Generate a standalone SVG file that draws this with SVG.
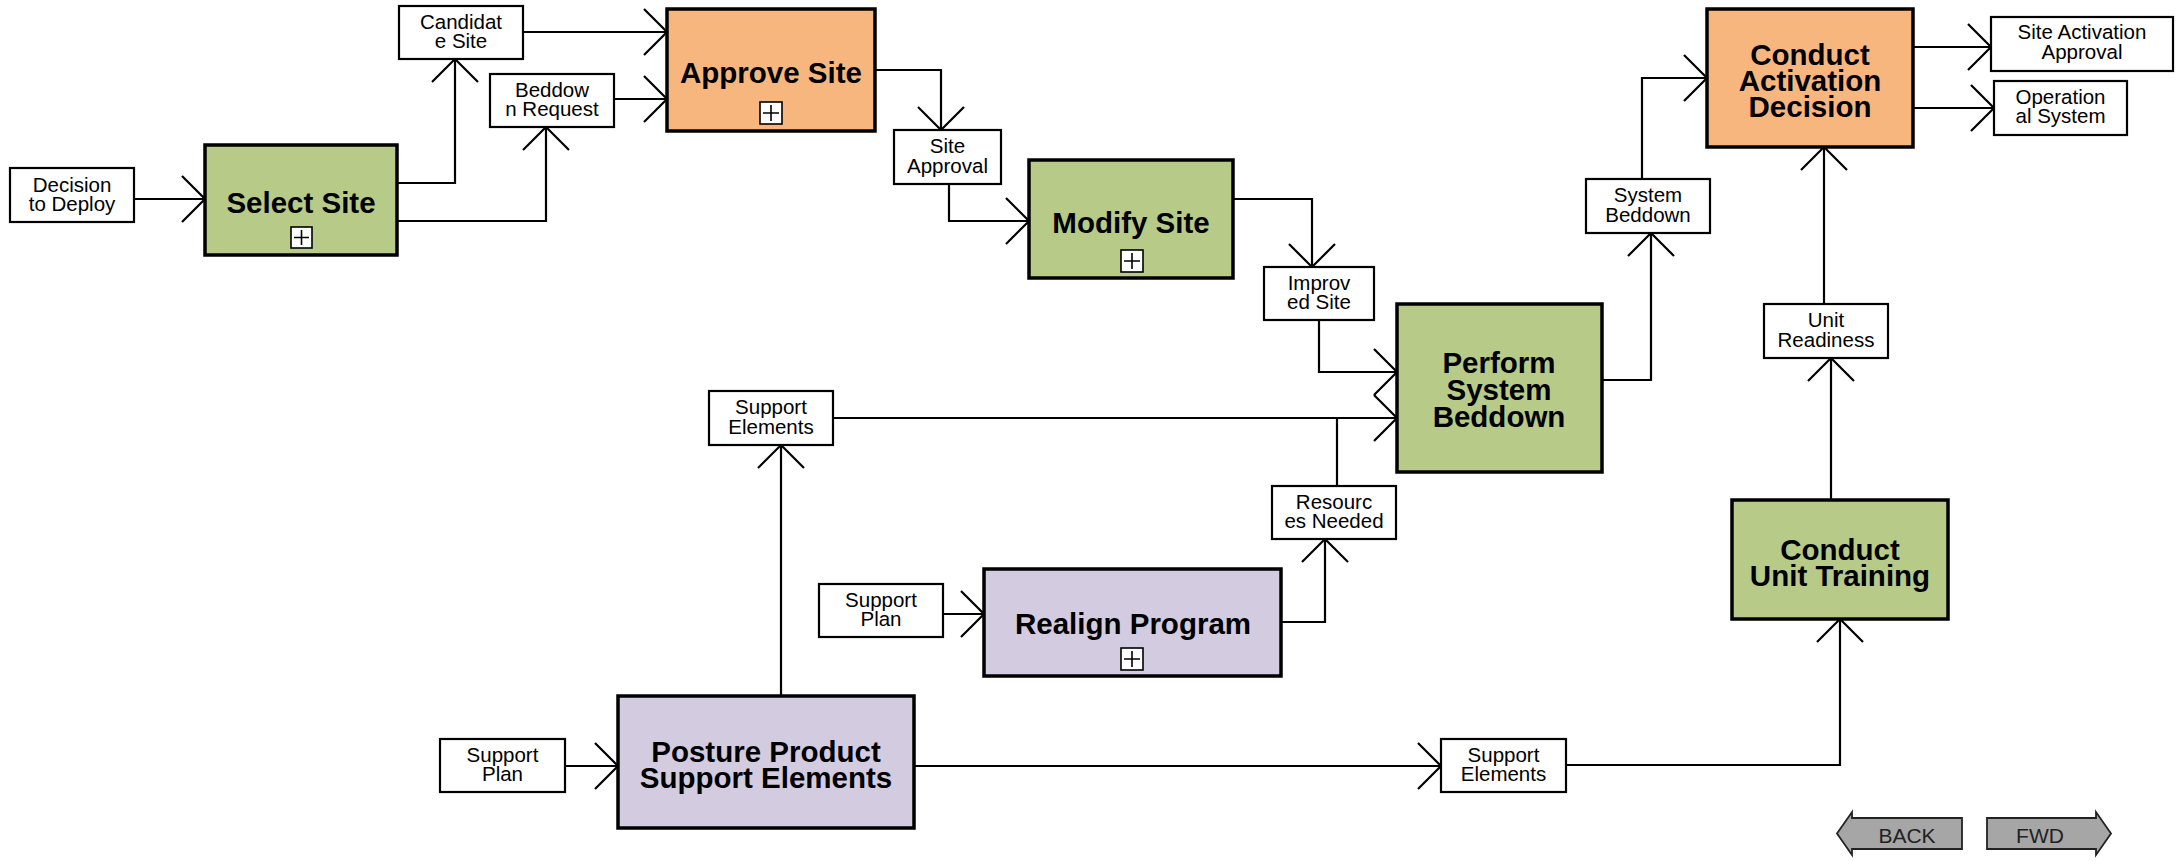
<svg xmlns="http://www.w3.org/2000/svg" width="2183" height="861" viewBox="0 0 2183 861">
<defs>
<style>
.node rect.b{stroke:#000;stroke-width:3.5}
.green{fill:#b7ca88}
.orange{fill:#f8b67f}
.lav{fill:#d3cbdf}
.lbl rect{fill:#fff;stroke:#000;stroke-width:2.2}
.lt{font-family:"Liberation Sans",Arial,sans-serif;font-size:20.5px;fill:#000;text-anchor:middle}
.nt{font-family:"Liberation Sans",Arial,sans-serif;font-size:29.5px;font-weight:bold;fill:#000;text-anchor:middle}
.plus rect{fill:#fff;stroke:#000;stroke-width:1.6}
.plus path{stroke:#000;stroke-width:1.6;fill:none}
.conn path{fill:none;stroke:#000;stroke-width:2.2;marker-end:url(#arr)}
.conn path.nm{marker-end:none}
.btn polygon{fill:#a6a6a6;stroke:#222;stroke-width:1.8}
.bt{font-family:"Liberation Sans",Arial,sans-serif;font-size:21px;fill:#222;text-anchor:middle}
</style>
<marker id="arr" markerUnits="userSpaceOnUse" viewBox="-26 -26 28 52" refX="0" refY="0" markerWidth="28" markerHeight="52" orient="auto" overflow="visible">
<path d="M-23,-23 L0,0 L-23,23" fill="none" stroke="#000" stroke-width="2.2"/>
</marker>
</defs>
<rect width="2183" height="861" fill="#fff"/>

<g class="conn">
<path d="M134,199 H205"/>
<path d="M397,183 H455 V59"/>
<path d="M397,221 H546 V127"/>
<path d="M523,32 H667"/>
<path d="M614,99 H667"/>
<path d="M875,70 H941 V130"/>
<path d="M949,184 V221 H1029"/>
<path d="M1233,199 H1312 V267"/>
<path d="M1319,320 V372 H1397"/>
<path d="M833,418 H1397"/>
<path class="nm" d="M1337,486 V418"/>
<path d="M781,696 V445"/>
<path d="M943,614 H984"/>
<path d="M1281,622 H1325 V539"/>
<path d="M565,766 H618"/>
<path d="M914,766 H1441"/>
<path d="M1566,765 H1840 V619"/>
<path d="M1831,500 V358"/>
<path d="M1824,304 V147"/>
<path d="M1602,380 H1651 V233"/>
<path d="M1642,179 V78 H1707"/>
<path d="M1913,47 H1991"/>
<path d="M1913,108 H1994"/>
</g>

<g id="select-site" class="node">
<rect class="b green" x="205" y="145" width="192" height="110"/>
<text class="nt" x="301" y="213">Select Site</text>
<g class="plus"><rect x="291" y="227" width="21" height="21"/><path d="M301.5,230 V245 M294,237.5 H309"/></g>
</g>
<g id="approve-site" class="node">
<rect class="b orange" x="667" y="9" width="208" height="122"/>
<text class="nt" x="771" y="83">Approve Site</text>
<g class="plus"><rect x="760" y="102" width="22" height="22"/><path d="M771,105 V121 M763,113 H779"/></g>
</g>
<g id="modify-site" class="node">
<rect class="b green" x="1029" y="160" width="204" height="118"/>
<text class="nt" x="1131" y="233">Modify Site</text>
<g class="plus"><rect x="1121" y="250" width="22" height="22"/><path d="M1132,253 V269 M1124,261 H1140"/></g>
</g>
<g id="perform-system-beddown" class="node">
<rect class="b green" x="1397" y="304" width="205" height="168"/>
<text class="nt" x="1499" y="373">Perform<tspan x="1499" dy="27">System</tspan><tspan x="1499" dy="27">Beddown</tspan></text>
</g>
<g id="conduct-activation-decision" class="node">
<rect class="b orange" x="1707" y="9" width="206" height="138"/>
<text class="nt" x="1810" y="65">Conduct<tspan x="1810" dy="26">Activation</tspan><tspan x="1810" dy="26">Decision</tspan></text>
</g>
<g id="conduct-unit-training" class="node">
<rect class="b green" x="1732" y="500" width="216" height="119"/>
<text class="nt" x="1840" y="560">Conduct<tspan x="1840" dy="25.5">Unit Training</tspan></text>
</g>
<g id="realign-program" class="node">
<rect class="b lav" x="984" y="569" width="297" height="107"/>
<text class="nt" x="1133" y="634">Realign Program</text>
<g class="plus"><rect x="1121" y="648" width="22" height="22"/><path d="M1132,651 V667 M1124,659 H1140"/></g>
</g>
<g id="posture-product-support-elements" class="node">
<rect class="b lav" x="618" y="696" width="296" height="132"/>
<text class="nt" x="766" y="762">Posture Product<tspan x="766" dy="26">Support Elements</tspan></text>
</g>

<g id="lbl-decision-to-deploy" class="lbl"><rect x="10" y="168" width="124" height="54"/><text class="lt" x="72" y="191.5">Decision<tspan x="72" dy="19.5">to Deploy</tspan></text></g>
<g id="lbl-candidate-site" class="lbl"><rect x="399" y="6" width="124" height="53"/><text class="lt" x="461" y="28.5">Candidat<tspan x="461" dy="19.5">e Site</tspan></text></g>
<g id="lbl-beddown-request" class="lbl"><rect x="490" y="74" width="124" height="53"/><text class="lt" x="552" y="96.5">Beddow<tspan x="552" dy="19.5">n Request</tspan></text></g>
<g id="lbl-site-approval" class="lbl"><rect x="894" y="130" width="107" height="54"/><text class="lt" x="947.5" y="153">Site<tspan x="947.5" dy="19.5">Approval</tspan></text></g>
<g id="lbl-improved-site" class="lbl"><rect x="1264" y="267" width="110" height="53"/><text class="lt" x="1319" y="289.5">Improv<tspan x="1319" dy="19.5">ed Site</tspan></text></g>
<g id="lbl-system-beddown" class="lbl"><rect x="1586" y="179" width="124" height="54"/><text class="lt" x="1648" y="202">System<tspan x="1648" dy="19.5">Beddown</tspan></text></g>
<g id="lbl-site-activation-approval" class="lbl"><rect x="1991" y="17" width="182" height="54"/><text class="lt" x="2082" y="39">Site Activation<tspan x="2082" dy="19.5">Approval</tspan></text></g>
<g id="lbl-operational-system" class="lbl"><rect x="1994" y="81" width="133" height="54"/><text class="lt" x="2060.5" y="103.5">Operation<tspan x="2060.5" dy="19.5">al System</tspan></text></g>
<g id="lbl-unit-readiness" class="lbl"><rect x="1764" y="304" width="124" height="54"/><text class="lt" x="1826" y="327">Unit<tspan x="1826" dy="19.5">Readiness</tspan></text></g>
<g id="lbl-support-elements-top" class="lbl"><rect x="709" y="391" width="124" height="54"/><text class="lt" x="771" y="414">Support<tspan x="771" dy="19.5">Elements</tspan></text></g>
<g id="lbl-resources-needed" class="lbl"><rect x="1272" y="486" width="124" height="53"/><text class="lt" x="1334" y="508.5">Resourc<tspan x="1334" dy="19.5">es Needed</tspan></text></g>
<g id="lbl-support-plan-mid" class="lbl"><rect x="819" y="584" width="124" height="53"/><text class="lt" x="881" y="606.5">Support<tspan x="881" dy="19.5">Plan</tspan></text></g>
<g id="lbl-support-plan-bottom" class="lbl"><rect x="440" y="739" width="125" height="53"/><text class="lt" x="502.5" y="761.5">Support<tspan x="502.5" dy="19.5">Plan</tspan></text></g>
<g id="lbl-support-elements-bottom" class="lbl"><rect x="1441" y="739" width="125" height="53"/><text class="lt" x="1503.5" y="761.5">Support<tspan x="1503.5" dy="19.5">Elements</tspan></text></g>

<g id="btn-back" class="btn">
<polygon points="1837,833.5 1852,812 1852,818 1962,818 1962,849 1852,849 1852,855"/>
<text class="bt" x="1907" y="843">BACK</text>
</g>
<g id="btn-fwd" class="btn">
<polygon points="2111,833.5 2096,812 2096,818 1987,818 1987,849 2096,849 2096,855"/>
<text class="bt" x="2040" y="843">FWD</text>
</g>
</svg>
